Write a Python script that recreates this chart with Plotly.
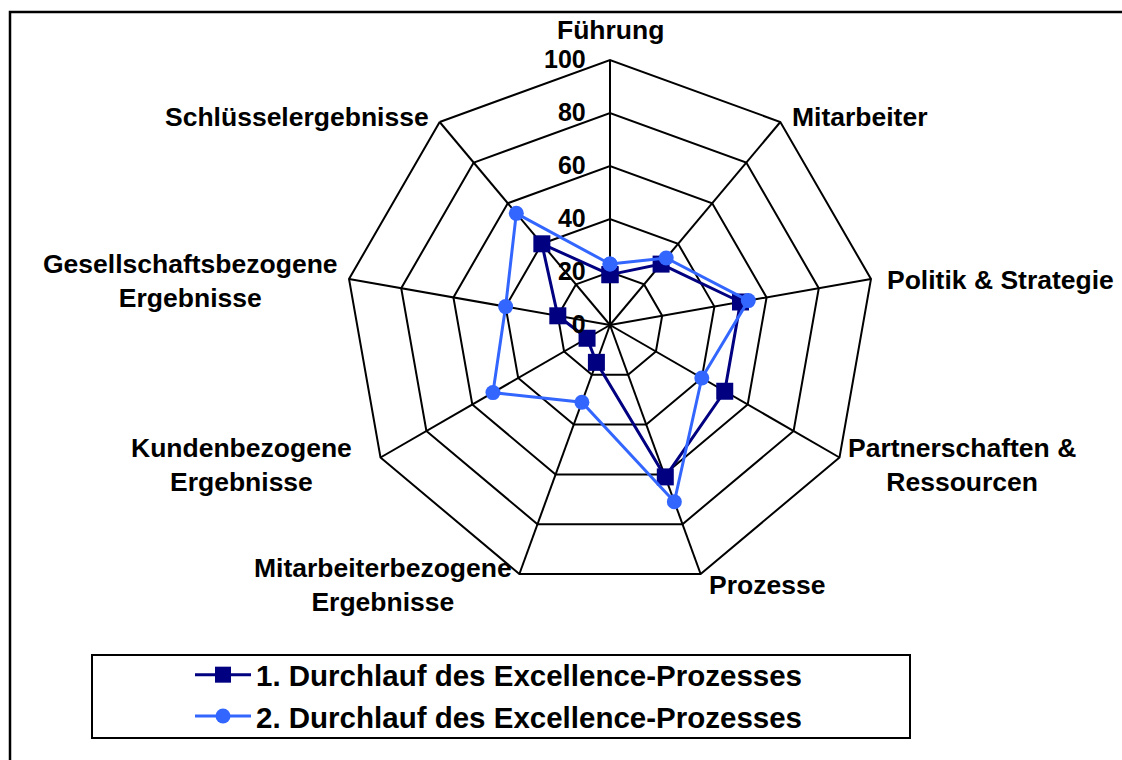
import plotly.graph_objects as go

categories = ["Führung", "Mitarbeiter", "Politik & Strategie", "Partnerschaften & Ressourcen",
              "Prozesse", "Mitarbeiterbezogene Ergebnisse", "Kundenbezogene Ergebnisse",
              "Gesellschaftsbezogene Ergebnisse", "Schlüsselergebnisse"]
tick_labels = ["Führung", "Mitarbeiter", "Politik & Strategie", "Partnerschaften &<br>Ressourcen",
               "Prozesse", "Mitarbeiterbezogene<br>Ergebnisse", "Kundenbezogene<br>Ergebnisse",
               "Gesellschaftsbezogene<br>Ergebnisse", "Schlüsselergebnisse"]
series1_name = "1. Durchlauf des Excellence-Prozesses"
series1 = [19, 30, 50, 50, 61, 15, 10, 20, 40]
series2_name = "2. Durchlauf des Excellence-Prozesses"
series2 = [23, 33, 53, 40, 71, 31, 51, 40, 55]
radial_ticks = [0, 20, 40, 60, 80, 100]

FONT = "Liberation Sans, Arial, sans-serif"
W, H = 1122, 760
cx, cy, R = 610, 325, 265

# label placement (pixel positions of each category label block: x, y, anchor)
label_pos = [
    (610, 30, "center"), (790, 117, "left"), (885, 280, "left"), (962, 465, "center"),
    (767, 585, "center"), (383, 585, "center"), (241, 465, "center"), (190, 281, "center"),
    (431, 117, "right"),
]

fig = go.Figure()
fig.add_trace(go.Scatterpolar(
    r=series1 + series1[:1], theta=categories + categories[:1], name=series1_name,
    mode="lines+markers", line=dict(color="#000080", width=3),
    marker=dict(symbol="square", size=17, color="#000080")))
fig.add_trace(go.Scatterpolar(
    r=series2 + series2[:1], theta=categories + categories[:1], name=series2_name,
    mode="lines+markers", line=dict(color="#3366FF", width=3),
    marker=dict(symbol="circle", size=15, color="#3366FF")))

annotations = []
for text, (px, py, anc) in zip(tick_labels, label_pos):
    annotations.append(dict(
        text=text, x=px / W, y=1 - py / H, xref="paper", yref="paper",
        xanchor=anc, yanchor="middle", align="center", showarrow=False,
        font=dict(family=FONT, size=26.5, color="black", weight="bold")))

fig.update_layout(
    width=W, height=H, margin=dict(l=0, r=0, t=0, b=0),
    paper_bgcolor="white", plot_bgcolor="white",
    font=dict(family=FONT, color="black", size=24, weight="bold"),
    polar=dict(
        domain=dict(x=[(cx - R) / W, (cx + R) / W], y=[(H - cy - R) / H, (H - cy + R) / H]),
        gridshape="linear", bgcolor="white",
        radialaxis=dict(range=[0, 100], tickvals=radial_ticks, angle=90, side="counterclockwise",
                        tickangle=90, showline=False, ticks="outside", ticklen=15,
                        tickcolor="rgba(0,0,0,0)", showgrid=True,
                        gridcolor="black", gridwidth=2,
                        tickfont=dict(family=FONT, size=25, color="black", weight="bold")),
        angularaxis=dict(rotation=90, direction="clockwise", type="category",
                         categoryarray=categories, showticklabels=False,
                         showline=True, linecolor="black", linewidth=2, ticks="",
                         showgrid=True, gridcolor="black", gridwidth=2),
    ),
    annotations=annotations,
    showlegend=True,
    legend=dict(x=190 / W, y=1 - 649 / H, xanchor="left", yanchor="top",
                bgcolor="rgba(0,0,0,0)", borderwidth=0, itemwidth=56,
                font=dict(family=FONT, size=29.5, color="black", weight="bold")),
    shapes=[
        dict(type="rect", xref="paper", yref="paper", x0=10 / W, x1=1.02, y0=-0.02, y1=1 - 12 / H,
             line=dict(color="black", width=2.5), fillcolor="rgba(0,0,0,0)", layer="below"),
        dict(type="rect", xref="paper", yref="paper", x0=92 / W, x1=910 / W, y0=1 - 738 / H, y1=1 - 655 / H,
             line=dict(color="black", width=2), fillcolor="rgba(0,0,0,0)", layer="below"),
    ],
)

fig.write_html("out.html", config={"displayModeBar": False},
               post_script="document.body.style.margin='0';")
